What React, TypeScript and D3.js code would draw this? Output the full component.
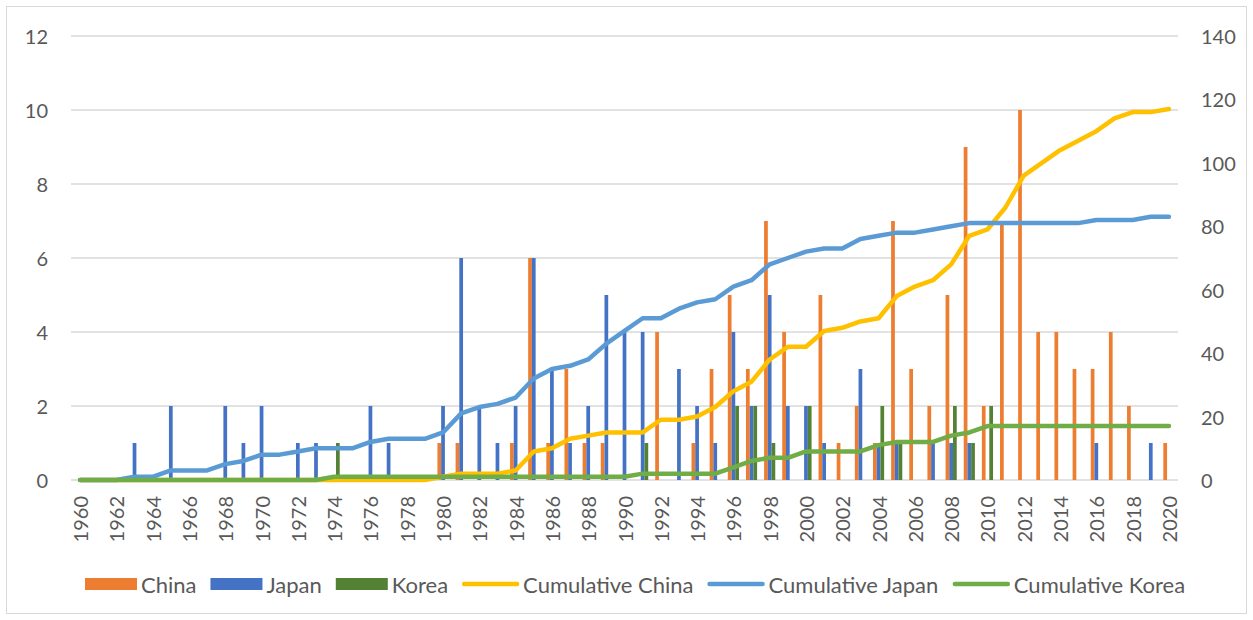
import React, { useEffect } from "react";
import * as d3 from "d3";

// ---------- DATA ----------
const years: number[] = d3.range(1960, 2021);

// yearly counts, 1960..2020
const china: number[] = [
  0, 0, 0, 0, 0, 0, 0, 0, 0, 0, // 1960s
  0, 0, 0, 0, 0, 0, 0, 0, 0, 0, // 1970s
  1, 1, 0, 0, 1, 6, 1, 3, 1, 1, // 1980s
  0, 0, 4, 0, 1, 3, 5, 3, 7, 4, // 1990s
  0, 5, 1, 2, 1, 7, 3, 2, 5, 9, // 2000s
  2, 7, 10, 4, 4, 3, 3, 4, 2, 0, // 2010s
  1, // 2020
];
const japan: number[] = [
  0, 0, 0, 1, 0, 2, 0, 0, 2, 1,
  2, 0, 1, 1, 0, 0, 2, 1, 0, 0,
  2, 6, 2, 1, 2, 6, 3, 1, 2, 5,
  4, 4, 0, 3, 2, 1, 4, 2, 5, 2,
  2, 1, 0, 3, 1, 1, 0, 1, 1, 1,
  0, 0, 0, 0, 0, 0, 1, 0, 0, 1,
  0,
];
const korea: number[] = [
  0, 0, 0, 0, 0, 0, 0, 0, 0, 0,
  0, 0, 0, 0, 1, 0, 0, 0, 0, 0,
  0, 0, 0, 0, 0, 0, 0, 0, 0, 0,
  0, 1, 0, 0, 0, 0, 2, 2, 1, 0,
  2, 0, 0, 0, 2, 1, 0, 0, 2, 1,
  2, 0, 0, 0, 0, 0, 0, 0, 0, 0,
  0,
];

// cumulative counts (right axis), 1960..2020
const cumChina: number[] = [
  0, 0, 0, 0, 0, 0, 0, 0, 0, 0,
  0, 0, 0, 0, 0, 0, 0, 0, 0, 0,
  1, 2, 2, 2, 3, 9, 10, 13, 14, 15,
  15, 15, 19, 19, 20, 23, 28, 31, 38, 42,
  42, 47, 48, 50, 51, 58, 61, 63, 68, 77,
  79, 86, 96, 100, 104, 107, 110, 114, 116, 116,
  117,
];
const cumJapan: number[] = [
  0, 0, 0, 1, 1, 3, 3, 3, 5, 6,
  8, 8, 9, 10, 10, 10, 12, 13, 13, 13,
  15, 21, 23, 24, 26, 32, 35, 36, 38, 43,
  47, 51, 51, 54, 56, 57, 61, 63, 68, 70,
  72, 73, 73, 76, 77, 78, 78, 79, 80, 81,
  81, 81, 81, 81, 81, 81, 82, 82, 82, 83,
  83,
];
const cumKorea: number[] = [
  0, 0, 0, 0, 0, 0, 0, 0, 0, 0,
  0, 0, 0, 0, 1, 1, 1, 1, 1, 1,
  1, 1, 1, 1, 1, 1, 1, 1, 1, 1,
  1, 2, 2, 2, 2, 2, 4, 6, 7, 7,
  9, 9, 9, 9, 11, 12, 12, 12, 14, 15,
  17, 17, 17, 17, 17, 17, 17, 17, 17, 17,
  17,
];

const leftTicks: number[] = [0, 2, 4, 6, 8, 10, 12];
const rightTicks: number[] = [0, 20, 40, 60, 80, 100, 120, 140];

const barSeries = [
  { name: "China", values: china, color: "#ED7D31" },
  { name: "Japan", values: japan, color: "#4472C4" },
  { name: "Korea", values: korea, color: "#548235" },
];
const lineSeries = [
  { name: "Cumulative China", values: cumChina, color: "#FFC000" },
  { name: "Cumulative Japan", values: cumJapan, color: "#5B9BD5" },
  { name: "Cumulative Korea", values: cumKorea, color: "#70AD47" },
];

// ---------- LAYOUT ----------
const W = 1253;
const H = 620;
const FONT = "Lato, 'Open Sans', sans-serif";
const FS = 20;
const LFS = 22;
const TEXT = "#595959";
const GRID = "#d9d9d9";

function measure(text: string, size: number): number {
  if (typeof document === "undefined") return text.length * 10;
  const c = document.createElement("canvas");
  const ctx = c.getContext("2d");
  if (!ctx) return text.length * 10;
  ctx.font = `${size}px Lato`;
  return ctx.measureText(text).width;
}

export default function App() {
  useEffect(() => {
    document.body.style.margin = "0";
  }, []);

  const x = d3
    .scaleBand<number>()
    .domain(years)
    .range([71, 1178])
    .paddingInner(0)
    .paddingOuter(0);
  const yL = d3.scaleLinear().domain([0, 12]).range([480, 36]);
  const yR = d3.scaleLinear().domain([0, 140]).range([480, 36]);
  const bw = x.bandwidth() * 0.205;
  const inner = d3
    .scaleBand<string>()
    .domain(barSeries.map((s) => s.name))
    .range([-1.5 * bw, 1.5 * bw]);
  const cx = (yr: number) => (x(yr) as number) + x.bandwidth() / 2;

  const line = d3
    .line<number>()
    .x((_, i) => cx(years[i]))
    .y((v) => yR(v))
    .curve(d3.curveLinear);

  // legend layout
  const legendItems = [
    ...barSeries.map((s) => ({ ...s, kind: "bar" })),
    ...lineSeries.map((s) => ({ ...s, kind: "line" })),
  ];
  const legendY = 584;
  let lx = 85;
  const legendPos = legendItems.map((it) => {
    const sw = it.kind === "bar" ? 52 : 57;
    const pos = { x: lx, sw, tx: lx + sw + 4 };
    lx = pos.tx + measure(it.name, LFS) + 14;
    return pos;
  });

  return (
    <svg
      width={W}
      height={H}
      style={{ position: "absolute", left: 0, top: 0, display: "block" }}
      fontFamily={FONT}
    >
      <rect x={0} y={0} width={W} height={H} fill="#fff" />
      <rect x={6.5} y={6.5} width={1240} height={607} fill="none" stroke={GRID} strokeWidth={1} />

      {/* gridlines */}
      {leftTicks.map((t) => (
        <line key={"g" + t} x1={71} x2={1178} y1={yL(t)} y2={yL(t)} stroke={GRID} strokeWidth={1.3} />
      ))}

      {/* left axis labels */}
      {leftTicks.map((t) => (
        <text key={"l" + t} x={48} y={yL(t)} textAnchor="end" dominantBaseline="central" fontSize={FS} fill={TEXT}>
          {t}
        </text>
      ))}
      {/* right axis labels */}
      {rightTicks.map((t) => (
        <text key={"r" + t} x={1201} y={yR(t)} textAnchor="start" dominantBaseline="central" fontSize={FS} fill={TEXT}>
          {t}
        </text>
      ))}

      {/* year labels */}
      {years
        .filter((yr) => (yr - 1960) % 2 === 0)
        .map((yr) => (
          <text
            key={"y" + yr}
            transform={`translate(${cx(yr)},496) rotate(-90)`}
            textAnchor="end"
            dominantBaseline="central"
            fontSize={FS}
            fill={TEXT}
          >
            {yr}
          </text>
        ))}

      {/* bars */}
      {barSeries.map((s) => (
        <g key={s.name} fill={s.color}>
          {s.values.map((v, i) =>
            v > 0 ? (
              <rect
                key={i}
                x={cx(years[i]) + (inner(s.name) as number)}
                y={yL(v)}
                width={inner.bandwidth()}
                height={yL(0) - yL(v)}
              />
            ) : null
          )}
        </g>
      ))}

      {/* lines */}
      {lineSeries.map((s) => (
        <path
          key={s.name}
          d={line(s.values) || ""}
          fill="none"
          stroke={s.color}
          strokeWidth={4.5}
          strokeLinejoin="round"
          strokeLinecap="round"
        />
      ))}

      {/* legend */}
      {legendItems.map((it, i) => {
        const p = legendPos[i];
        return (
          <g key={"lg" + it.name}>
            {it.kind === "bar" ? (
              <rect x={p.x} y={legendY - 6} width={p.sw} height={12} fill={it.color} />
            ) : (
              <line
                x1={p.x + 2}
                x2={p.x + p.sw - 2}
                y1={legendY}
                y2={legendY}
                stroke={it.color}
                strokeWidth={4.5}
                strokeLinecap="round"
              />
            )}
            <text x={p.tx} y={legendY} dominantBaseline="central" fontSize={LFS} fill={TEXT}>
              {it.name}
            </text>
          </g>
        );
      })}
    </svg>
  );
}
